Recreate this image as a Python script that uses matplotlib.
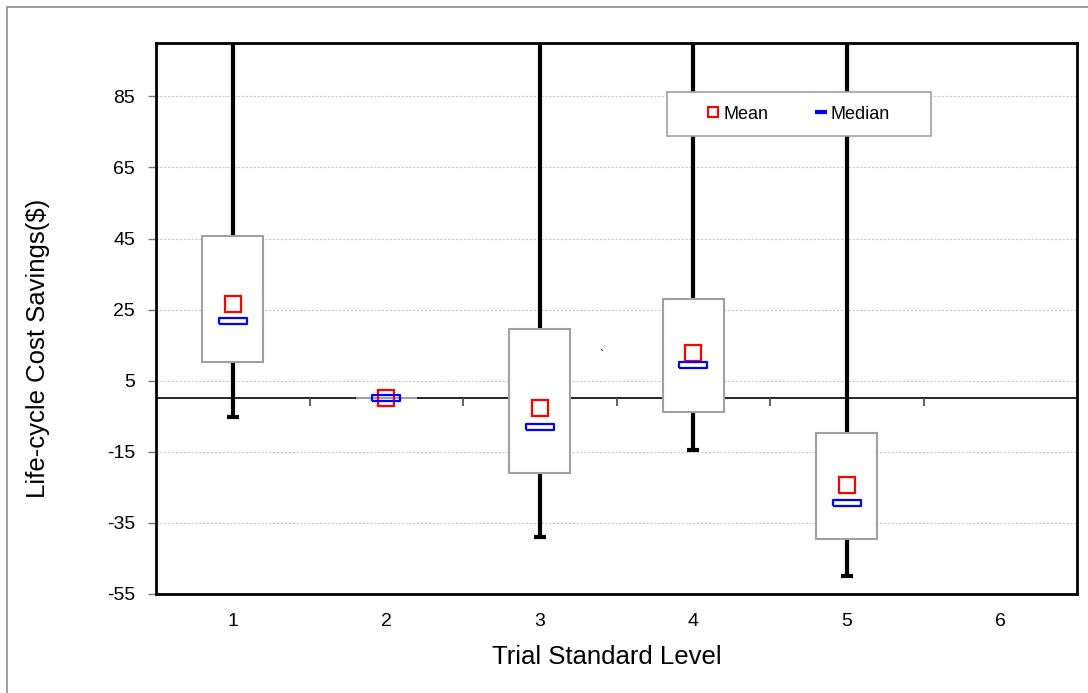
import numpy as np
import matplotlib
matplotlib.use("Agg")
import matplotlib.pyplot as plt
from matplotlib.lines import Line2D
from matplotlib.patches import Rectangle

plt.rcParams['font.family'] = ['Liberation Sans', 'DejaVu Sans']
plt.rcParams['axes.unicode_minus'] = False

# data
levels = [1, 2, 3, 4, 5]
all_levels = [1, 2, 3, 4, 5, 6]
q3 = [45.8, 0.0, 19.6, 28.1, -9.6]
q1 = [10.4, 0.0, -21.0, -3.8, -39.4]
whisker_low = [-5.1, 0.0, -39.0, -14.5, -49.9]
whisker_high = [160.0, 0.0, 170.0, 150.0, 140.0]   # run off the top of the chart
means = [26.7, 0.1, -2.6, 12.8, -24.3]
medians = [21.9, 0.0, -8.0, 9.5, -29.3]
yticks = [-55, -35, -15, 5, 25, 45, 65, 85]

fig = plt.figure(figsize=(10.88, 6.93), dpi=100)
ax = fig.add_axes([156 / 1088, 1 - 594 / 693, 921 / 1088, 551 / 693])

# light frame round the whole picture
fig.add_artist(Rectangle((7 / 1088, -0.1), 1.2, 1 - 7 / 693 + 0.1, transform=fig.transFigure,
                         fill=False, edgecolor='#8c8c8c', linewidth=1.2))

box_w = 0.4
for i, lvl in enumerate(levels):
    # whiskers
    ax.plot([lvl, lvl], [whisker_low[i], q1[i]], color='black', lw=3, zorder=2, solid_capstyle='butt')
    ax.plot([lvl, lvl], [q3[i], whisker_high[i]], color='black', lw=3, zorder=2, solid_capstyle='butt')
    if whisker_low[i] < q1[i]:
        ax.plot([lvl - 0.04, lvl + 0.04], [whisker_low[i], whisker_low[i]], color='black', lw=3,
                zorder=2, solid_capstyle='butt')
    # box
    ax.add_patch(Rectangle((lvl - box_w / 2, q1[i]), box_w, q3[i] - q1[i], facecolor='white',
                           edgecolor='#a0a0a0', linewidth=1.5, zorder=3))

ax.axhline(0, color='black', lw=1.2, zorder=2.5)
bounds = np.arange(1.5, 6.0, 1.0)
ax.plot(bounds, np.zeros_like(bounds), ls='none', marker=3, ms=6, mew=1.3, color='#555555', zorder=2.5)

median_marker = [(-2, -0.5), (2, -0.5), (2, 0.5), (-2, 0.5), (-2, -0.5)]
ax.plot(levels, means, ls='none', marker='s', ms=12, mfc='none', mec='red', mew=1.6, zorder=5)
ax.plot(levels, medians, ls='none', marker=median_marker, ms=20, mfc='none', mec='blue', mew=1.6, zorder=6)

ax.text(3.4, 12, '`', fontsize=9, ha='center', va='center')

ax.set_xlim(0.5, 6.5)
ax.set_ylim(-55, 100)
ax.set_xticks(all_levels)
ax.set_yticks(yticks)
ax.tick_params(axis='x', length=0, pad=14, labelsize=14)
ax.tick_params(axis='y', length=6, width=1, color='#777777', pad=9, labelsize=14)
ax.yaxis.grid(True, linestyle=(0, (2, 1.5)), color='#c8c8c8', linewidth=0.8)
ax.set_axisbelow(True)
for sp in ax.spines.values():
    sp.set_linewidth(2)
    sp.set_color('black')

ax.set_xlabel('Trial Standard Level', fontsize=18.5, va='top')
ax.xaxis.set_label_coords(0.49, -0.093)
ax.set_ylabel('Life-cycle Cost Savings($)', fontsize=18.5, va='center')
ax.yaxis.set_label_coords(-0.128, 0.446)

# legend: entries without a frame, plus a plain rectangle as the box
ax.add_patch(Rectangle((0.5548, 0.8312), 0.2866, 0.0799, transform=ax.transAxes, facecolor='white',
                       edgecolor='#a0a0a0', linewidth=1.2, zorder=7))
handles = [
    Line2D([], [], ls='none', marker='s', ms=7, mfc='white', mec='red', mew=1.5),
    Line2D([], [], ls='none', marker='_', ms=9, mec='blue', mew=3),
]
leg = ax.legend(handles, ['Mean', 'Median'], ncol=2, loc='center',
                bbox_to_anchor=(0.6981, 0.8711), frameon=False,
                fontsize=13, handlelength=0.6, handletextpad=0.25, borderpad=0,
                columnspacing=2.6)
leg.set_zorder(8)

fig.savefig('out.png', dpi=100)
